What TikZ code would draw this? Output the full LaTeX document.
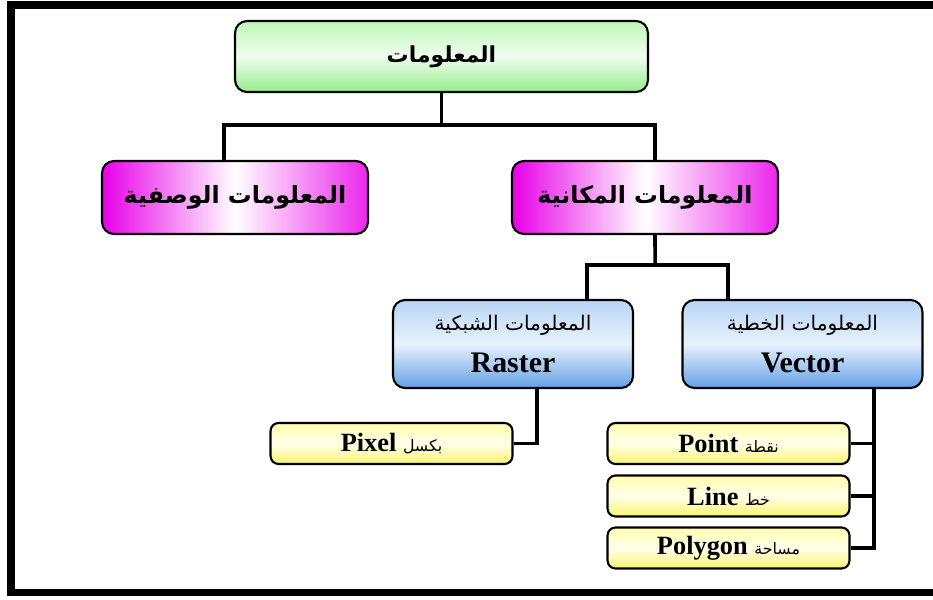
\documentclass[tikz,border=0pt]{standalone}
\usepackage{fontspec}
\setmainfont{Liberation Serif}
\newfontfamily\arabicfont[Script=Arabic,BoldFont={DejaVu Sans Bold}]{DejaVu Sans}
\TeXXeTstate=1
\usetikzlibrary{calc}

\definecolor{greenTop}{RGB}{190,245,185}
\definecolor{greenMid}{RGB}{240,253,238}
\definecolor{greenBot}{RGB}{150,235,140}
\definecolor{pinkMain}{RGB}{232,0,232}
\definecolor{blueTop}{RGB}{185,212,245}
\definecolor{blueMid}{RGB}{232,242,252}
\definecolor{blueBot}{RGB}{100,160,230}
\definecolor{yellTop}{RGB}{255,255,175}
\definecolor{yellMid}{RGB}{255,255,235}
\definecolor{yellBot}{RGB}{250,245,110}

\newcommand{\ar}[1]{{\arabicfont\beginR #1\endR}}

\begin{document}
\begin{tikzpicture}[x=0.02cm,y=-0.02cm,
  box/.style={draw=black,line width=1.2pt,rounded corners=0.24cm,inner sep=0pt,align=center},
  mainbox/.style={box,top color=greenTop,bottom color=greenBot,middle color=greenMid,
    minimum width=8.26cm,minimum height=1.42cm,font=\fontsize{12.5}{15}\selectfont},
  pinkbox/.style={box,left color=pinkMain,right color=pinkMain!85,middle color=white,
    minimum width=5.32cm,minimum height=1.46cm,font=\fontsize{13.5}{16}\selectfont},
  bluebox/.style={box,top color=blueTop,bottom color=blueBot,middle color=blueMid,
    minimum width=4.8cm,minimum height=1.76cm,font=\fontsize{17}{24}\selectfont},
  itembox/.style={box,rounded corners=0.16cm,top color=yellTop,bottom color=yellBot,middle color=yellMid,
    minimum width=4.84cm,minimum height=0.82cm,font=\fontsize{15}{18}\selectfont},
  link/.style={draw=black,line width=2pt}]

\useasboundingbox (0,0) rectangle (933,599);

% Frame
\draw[line width=4.5pt] (933,5) -- (11,5) -- (11,592.5) -- (933,592.5);

% Top node
\node[mainbox] (info) at (441.5,56.5) {\ar{\bfseries المعلومات}};

% Second level
\node[pinkbox] (desc) at (235,197.5) {\ar{\bfseries المعلومات الوصفية}};
\node[pinkbox] (spat) at (645,197.5) {\ar{\bfseries المعلومات المكانية}};

% Data models
\node[bluebox] (raster) at (513,344) {{\fontsize{11.5}{14}\selectfont\ar{المعلومات الشبكية}}\\\textbf{Raster}};
\node[bluebox] (vector) at (802.5,344) {{\fontsize{11.5}{14}\selectfont\ar{المعلومات الخطية}}\\\textbf{Vector}};

% Items
\node[itembox] (pixel) at (391.5,443.5) {\textbf{Pixel} {\fontsize{9}{12}\selectfont\ar{بكسل}}};
\node[itembox] (point) at (728.5,443.5) {\textbf{Point} {\fontsize{9}{12}\selectfont\ar{نقطة}}};
\node[itembox] (line) at (728.5,496) {\textbf{Line} {\fontsize{9}{12}\selectfont\ar{خط}}};
\node[itembox] (polygon) at (728.5,548) {\textbf{Polygon} {\fontsize{9}{12}\selectfont\ar{مساحة}}};

% Connectors
\coordinate (busA) at (441.5,125);
\coordinate (busB) at (655,265);
\draw[link] (info.south) -- (busA);
\draw[link] ([xshift=-0.22cm]desc.north) |- (busA) -| ([xshift=0.2cm]spat.north);
\draw[link] ([xshift=0.2cm]spat.south) -- (busB);
\draw[link] ([xshift=1.48cm]raster.north) |- (busB) -| ([xshift=-1.49cm]vector.north);
\draw[link] ([xshift=0.48cm]raster.south) |- (pixel.east);
\coordinate (vbus) at ([xshift=1.43cm]vector.south);
\draw[link] (vbus) |- (polygon.east);
\foreach \n in {point,line}
  \draw[link] (\n.east) -- (\n.east -| vbus);
\end{tikzpicture}
\end{document}
